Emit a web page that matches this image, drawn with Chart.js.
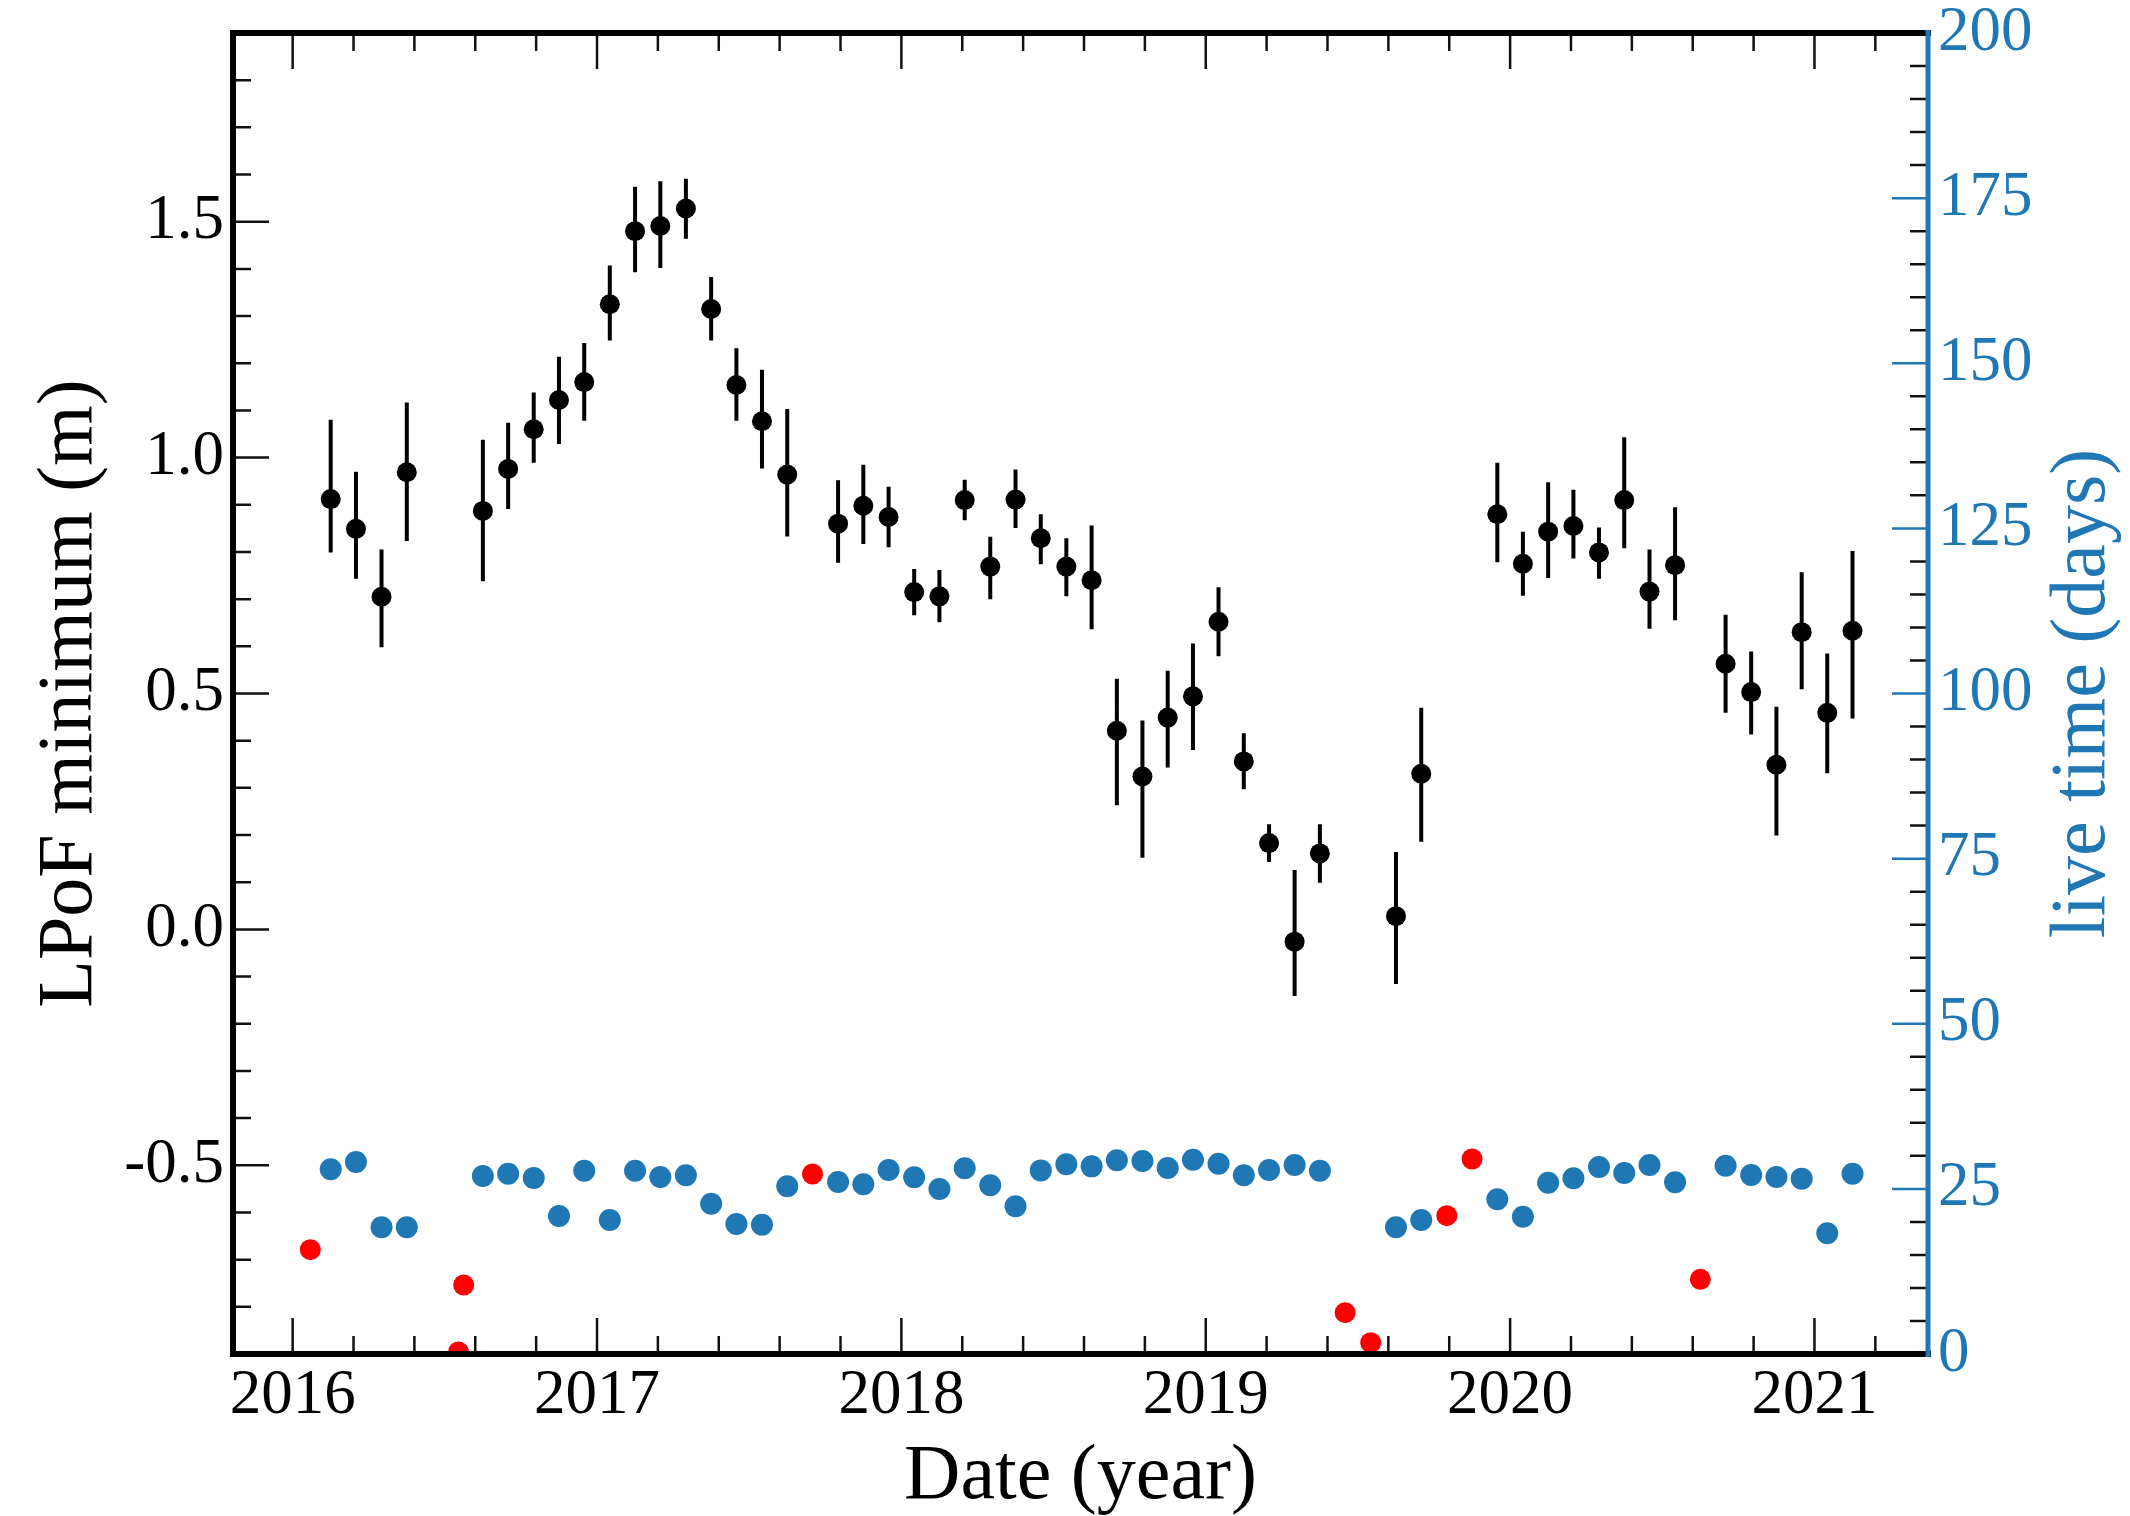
<!DOCTYPE html>
<html>
<head>
<meta charset="utf-8">
<script src="https://cdn.jsdelivr.net/npm/chart.js@4.4.1/dist/chart.umd.min.js"></script>
<style>
  html, body { margin: 0; padding: 0; background: #fff; }
  canvas { display: block; }
</style>
</head>
<body>
<canvas id="chart" width="2130" height="1516"></canvas>
<script>
// months with an LPoF fit, as decimal years (middle of the month)
var lpofDates = [
  2016.125, 2016.208, 2016.292, 2016.375, 2016.625, 2016.708, 2016.792, 2016.875, 2016.958,
  2017.042, 2017.125, 2017.208, 2017.292, 2017.375, 2017.458, 2017.542, 2017.625, 2017.792, 2017.875, 2017.958,
  2018.042, 2018.125, 2018.208, 2018.292, 2018.375, 2018.458, 2018.542, 2018.625, 2018.708, 2018.792, 2018.875, 2018.958,
  2019.042, 2019.125, 2019.208, 2019.292, 2019.375, 2019.625, 2019.708, 2019.958,
  2020.042, 2020.125, 2020.208, 2020.292, 2020.375, 2020.458, 2020.542, 2020.708, 2020.792, 2020.875, 2020.958,
  2021.042, 2021.125
];
// LPoF minimum (m) and the ends of its error bar
var lpofMin = [
  0.912, 0.849, 0.705, 0.969, 0.887, 0.976, 1.060, 1.122, 1.160,
  1.325, 1.480, 1.491, 1.528, 1.315, 1.154, 1.077, 0.964, 0.860, 0.898, 0.874,
  0.715, 0.706, 0.910, 0.769, 0.911, 0.829, 0.769, 0.740, 0.421, 0.324, 0.449, 0.494,
  0.652, 0.356, 0.183, -0.026, 0.161, 0.028, 0.330, 0.880,
  0.775, 0.843, 0.855, 0.799, 0.910, 0.716, 0.772, 0.563, 0.503, 0.349, 0.630,
  0.459, 0.633
];
var lpofHigh = [
  1.080, 0.970, 0.805, 1.117, 1.038, 1.074, 1.138, 1.214, 1.243,
  1.407, 1.574, 1.586, 1.591, 1.383, 1.232, 1.186, 1.103, 0.952, 0.985, 0.938,
  0.764, 0.762, 0.953, 0.832, 0.975, 0.880, 0.829, 0.856, 0.531, 0.443, 0.548, 0.606,
  0.725, 0.416, 0.223, 0.126, 0.223, 0.164, 0.470, 0.989,
  0.843, 0.948, 0.932, 0.852, 1.043, 0.805, 0.895, 0.667, 0.589, 0.472, 0.757,
  0.585, 0.802
];
var lpofLow = [
  0.799, 0.743, 0.598, 0.823, 0.738, 0.891, 0.989, 1.029, 1.078,
  1.248, 1.393, 1.402, 1.464, 1.248, 1.078, 0.977, 0.833, 0.777, 0.817, 0.810,
  0.666, 0.651, 0.867, 0.700, 0.851, 0.774, 0.706, 0.636, 0.263, 0.152, 0.343, 0.380,
  0.579, 0.297, 0.143, -0.141, 0.099, -0.116, 0.186, 0.778,
  0.707, 0.745, 0.786, 0.743, 0.808, 0.637, 0.655, 0.459, 0.413, 0.199, 0.509,
  0.331, 0.447
];
// live time (days) of the same months
var liveTime = [
  27.96, 29.07, 19.18, 19.18, 26.95, 27.3, 26.65, 20.9, 27.75,
  20.3, 27.75, 26.8, 27.05, 22.76, 19.68, 19.58, 25.39, 26.04, 25.69, 27.86,
  26.75, 24.98, 28.11, 25.54, 22.36, 27.8, 28.72, 28.41, 29.32, 29.22, 28.16, 29.42,
  28.81, 27.05, 27.86, 28.61, 27.75, 19.18, 20.29, 23.42,
  20.79, 25.94, 26.6, 28.31, 27.4, 28.61, 26.0, 28.51, 27.1, 26.8, 26.55,
  18.27, 27.3
];
// months without a fit, and their live time (days)
var droppedDates = [2016.058, 2016.545, 2016.562, 2017.708, 2019.458, 2019.542, 2019.792, 2019.875, 2020.625];
var droppedLiveTime = [15.8, 0.3, 10.45, 27.25, 6.26, 1.72, 20.94, 29.52, 11.3];

var yearTicks = [2016, 2017, 2018, 2019, 2020, 2021];
var lpofTicks = [-0.5, 0.0, 0.5, 1.0, 1.5];
var liveTicks = [0, 25, 50, 75, 100, 125, 150, 175, 200];

var BLUE = '#1f77b4';
var SERIF = '"Liberation Serif", "Times New Roman", serif';

Chart.defaults.font.family = SERIF;

function points(xs, ys) {
  return xs.map(function (x, i) { return { x: x, y: ys[i] }; });
}

function fixSize(prop, size) {
  return function (scale) {
    scale[prop] = size;
    scale.paddingTop = 0;
    scale.paddingBottom = 0;
    scale.paddingLeft = 0;
    scale.paddingRight = 0;
  };
}

function setTicks(values) {
  return function (scale) {
    scale.ticks = values.map(function (v) { return { value: v }; });
  };
}

var errorBars = {
  id: 'errorBars',
  beforeDatasetsDraw: function (chart) {
    var ctx = chart.ctx, x = chart.scales.x, y = chart.scales.y;
    ctx.save();
    ctx.strokeStyle = '#000';
    ctx.lineWidth = 4;
    ctx.beginPath();
    lpofDates.forEach(function (d, i) {
      var px = x.getPixelForValue(d);
      ctx.moveTo(px, y.getPixelForValue(lpofHigh[i]));
      ctx.lineTo(px, y.getPixelForValue(lpofLow[i]));
    });
    ctx.stroke();
    ctx.restore();
  }
};

// ROOT-like frame: inward ticks, thick border, titles
var frame = {
  id: 'frame',
  afterDraw: function (chart) {
    var ctx = chart.ctx, a = chart.chartArea;
    var x = chart.scales.x, y = chart.scales.y, y1 = chart.scales.y1;
    var MAJOR = 36, MINOR = 18, eps = 1e-6, t, v, p, len;

    ctx.save();
    ctx.lineWidth = 2.5;
    ctx.strokeStyle = '#111';

    ctx.beginPath();
    for (t = 10075; t <= 10110; t++) {
      v = t / 5;
      if (v <= x.min + eps || v >= x.max - eps) continue;
      p = x.getPixelForValue(v);
      len = (t % 5 === 0) ? MAJOR : MINOR;
      ctx.moveTo(p, a.bottom); ctx.lineTo(p, a.bottom - len);
      ctx.moveTo(p, a.top); ctx.lineTo(p, a.top + len);
    }
    for (t = -9; t <= 19; t++) {
      v = t / 10;
      if (v <= y.min + eps || v >= y.max - eps) continue;
      p = y.getPixelForValue(v);
      len = (t % 5 === 0) ? MAJOR : MINOR;
      ctx.moveTo(a.left, p); ctx.lineTo(a.left + len, p);
    }
    for (t = 1; t < 40; t++) {
      if (t % 5 === 0) continue;
      p = y1.getPixelForValue(t * 5);
      ctx.moveTo(a.right, p); ctx.lineTo(a.right - MINOR, p);
    }
    ctx.stroke();

    ctx.strokeStyle = BLUE;
    ctx.beginPath();
    liveTicks.forEach(function (d) {
      if (d <= y1.min || d >= y1.max) return;
      p = y1.getPixelForValue(d);
      ctx.moveTo(a.right, p); ctx.lineTo(a.right - MAJOR, p);
    });
    ctx.stroke();

    ctx.lineCap = 'square';
    ctx.lineWidth = 6;
    ctx.strokeStyle = '#000';
    ctx.beginPath();
    ctx.moveTo(a.right, a.top); ctx.lineTo(a.left, a.top);
    ctx.lineTo(a.left, a.bottom); ctx.lineTo(a.right, a.bottom);
    ctx.stroke();

    ctx.lineCap = 'butt';
    ctx.lineWidth = 5;
    ctx.strokeStyle = BLUE;
    ctx.beginPath();
    ctx.moveTo(a.right, a.top - 3); ctx.lineTo(a.right, a.bottom + 3);
    ctx.stroke();

    ctx.font = '78px ' + SERIF;
    ctx.textAlign = 'center';
    ctx.textBaseline = 'alphabetic';
    ctx.fillStyle = '#000';
    ctx.fillText('Date (year)', (a.left + a.right) / 2, a.bottom + 144);

    ctx.save();
    ctx.translate(a.left - 142, (a.top + a.bottom) / 2);
    ctx.rotate(-Math.PI / 2);
    ctx.fillText('LPoF minimum (m)', 0, 0);
    ctx.restore();

    ctx.save();
    ctx.fillStyle = BLUE;
    ctx.translate(a.right + 176, (a.top + a.bottom) / 2);
    ctx.rotate(-Math.PI / 2);
    ctx.fillText('live time (days)', 0, 0);
    ctx.restore();

    ctx.restore();
  }
};

new Chart(document.getElementById('chart'), {
  type: 'scatter',
  data: {
    datasets: [
      {
        label: 'LPoF minimum',
        data: points(lpofDates, lpofMin),
        yAxisID: 'y',
        backgroundColor: '#000',
        borderColor: '#000',
        borderWidth: 0,
        pointRadius: 10
      },
      {
        label: 'live time',
        data: points(lpofDates, liveTime),
        yAxisID: 'y1',
        backgroundColor: BLUE,
        borderColor: BLUE,
        borderWidth: 0,
        pointRadius: 11
      },
      {
        label: 'live time, month dropped',
        data: points(droppedDates, droppedLiveTime),
        yAxisID: 'y1',
        backgroundColor: '#ff0000',
        borderColor: '#ff0000',
        borderWidth: 0,
        pointRadius: 10.5,
        clip: 0
      }
    ]
  },
  options: {
    responsive: false,
    animation: false,
    events: [],
    devicePixelRatio: 1,
    layout: { padding: { top: 33, left: 0, right: 0, bottom: 0 } },
    plugins: { legend: { display: false }, tooltip: { enabled: false } },
    scales: {
      x: {
        type: 'linear',
        position: 'bottom',
        min: 2015.804,
        max: 2021.373,
        grid: { display: false, drawTicks: false },
        border: { display: false },
        afterBuildTicks: setTicks(yearTicks),
        afterFit: fixSize('height', 162),
        ticks: {
          autoSkip: false,
          maxRotation: 0,
          minRotation: 0,
          padding: 5,
          color: '#000',
          font: { size: 63, family: SERIF },
          callback: function (v) { return String(v); }
        }
      },
      y: {
        type: 'linear',
        position: 'left',
        min: -0.9,
        max: 1.9,
        grid: { display: false, drawTicks: false },
        border: { display: false },
        afterBuildTicks: setTicks(lpofTicks),
        afterFit: fixSize('width', 233),
        ticks: {
          padding: 9,
          color: '#000',
          font: { size: 63, family: SERIF },
          callback: function (v) { return v.toFixed(1); }
        }
      },
      y1: {
        type: 'linear',
        position: 'right',
        min: 0,
        max: 200,
        grid: { display: false, drawTicks: false },
        border: { display: false },
        afterBuildTicks: setTicks(liveTicks),
        afterFit: fixSize('width', 202),
        ticks: {
          padding: 10,
          color: BLUE,
          font: { size: 63, family: SERIF },
          callback: function (v) { return String(v); }
        }
      }
    }
  },
  plugins: [errorBars, frame]
});
</script>
</body>
</html>
